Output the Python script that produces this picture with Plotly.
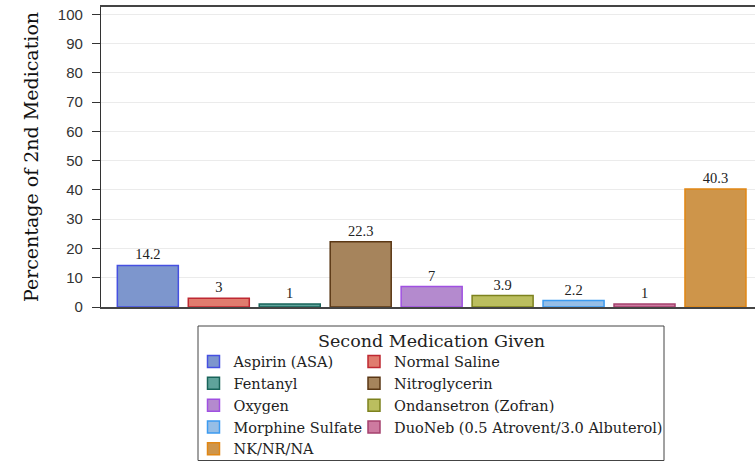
import plotly.graph_objects as go

categories = ["Aspirin (ASA)", "Normal Saline", "Fentanyl", "Nitroglycerin", "Oxygen",
              "Ondansetron (Zofran)", "Morphine Sulfate", "DuoNeb (0.5 Atrovent/3.0 Albuterol)", "NK/NR/NA"]
percentages = [14.2, 3, 1, 22.3, 7, 3.9, 2.2, 1, 40.3]
fill_colors = ["rgb(125,150,205)", "rgb(224,124,110)", "rgb(95,163,155)", "rgb(166,132,92)",
               "rgb(180,138,206)", "rgb(187,190,95)", "rgb(150,190,230)", "rgb(205,122,160)",
               "rgb(206,149,74)"]
line_colors = ["rgb(70,80,225)", "rgb(190,40,50)", "rgb(25,100,90)", "rgb(90,55,20)",
               "rgb(160,80,225)", "rgb(125,130,30)", "rgb(60,155,240)", "rgb(165,65,110)",
               "rgb(225,135,20)"]
y_ticks = [0, 10, 20, 30, 40, 50, 60, 70, 80, 90, 100]

SERIF = "DejaVu Serif"

W, H = 755, 462
L, T, B = 101, 7, 155
PW, PH = W - L, H - T - B


def px(x):
    return (x - L) / PW


def py(y):
    return (H - B - y) / PH


fig = go.Figure()
for i, (cat, val) in enumerate(zip(categories, percentages)):
    fig.add_trace(go.Bar(
        x=[cat], y=[val], name=cat,
        width=0.86,
        marker=dict(color=fill_colors[i], line=dict(color=line_colors[i], width=1.5)),
        text=[val], texttemplate="%{y}", textposition="outside",
        textfont=dict(family="Liberation Serif", size=14.5, color="#222"),
        cliponaxis=False,
        legend="legend" if i % 2 == 0 else "legend2",
    ))

fig.update_layout(
    width=W, height=H,
    margin=dict(l=L, r=0, t=T, b=B, autoexpand=False),
    paper_bgcolor="white", plot_bgcolor="white",
    barmode="overlay",
    showlegend=True,
    xaxis=dict(
        type="category", categoryorder="array", categoryarray=categories,
        range=[-0.66, 8.557], showticklabels=False, ticks="",
        showline=True, linecolor="#444", linewidth=1.5, mirror=True,
        showgrid=False, zeroline=False, fixedrange=True,
    ),
    yaxis=dict(
        range=[0, 102.5], tickvals=y_ticks, ticks="outside", ticklen=8, tickwidth=1.2,
        tickcolor="#333", ticklabelstandoff=6,
        tickfont=dict(family="Liberation Sans", size=15, color="#333"),
        showline=True, linecolor="#333", linewidth=1.2,
        showgrid=True, gridcolor="#ebebeb", gridwidth=1, zeroline=False,
        title=dict(text="Percentage of 2nd Medication", standoff=14,
                   font=dict(family=SERIF, size=19, color="#111")),
    ),
    legend=dict(
        x=px(193.5), y=py(345.5), xanchor="left", yanchor="top",
        orientation="v", bgcolor="rgba(0,0,0,0)", borderwidth=0,
        font=dict(family=SERIF, size=14.5, color="#222"), traceorder="normal",
        itemwidth=30,
    ),
    legend2=dict(
        x=px(354), y=py(345.5), xanchor="left", yanchor="top",
        orientation="v", bgcolor="rgba(0,0,0,0)", borderwidth=0,
        font=dict(family=SERIF, size=14.5, color="#222"), traceorder="normal",
        itemwidth=30,
    ),
    shapes=[dict(type="rect", xref="paper", yref="paper",
                 x0=px(198), x1=px(664),
                 y0=py(460.5), y1=py(326),
                 line=dict(color="#444", width=1), fillcolor="rgba(0,0,0,0)", layer="above")],
    annotations=[dict(text="Second Medication Given", xref="paper", yref="paper",
                      x=px(431), y=py(341), xanchor="center", yanchor="middle",
                      showarrow=False, font=dict(family=SERIF, size=17.5, color="#222"))],
)

fig.write_html("out.html", config={"displayModeBar": False},
               post_script="document.body.style.margin='0px';")
